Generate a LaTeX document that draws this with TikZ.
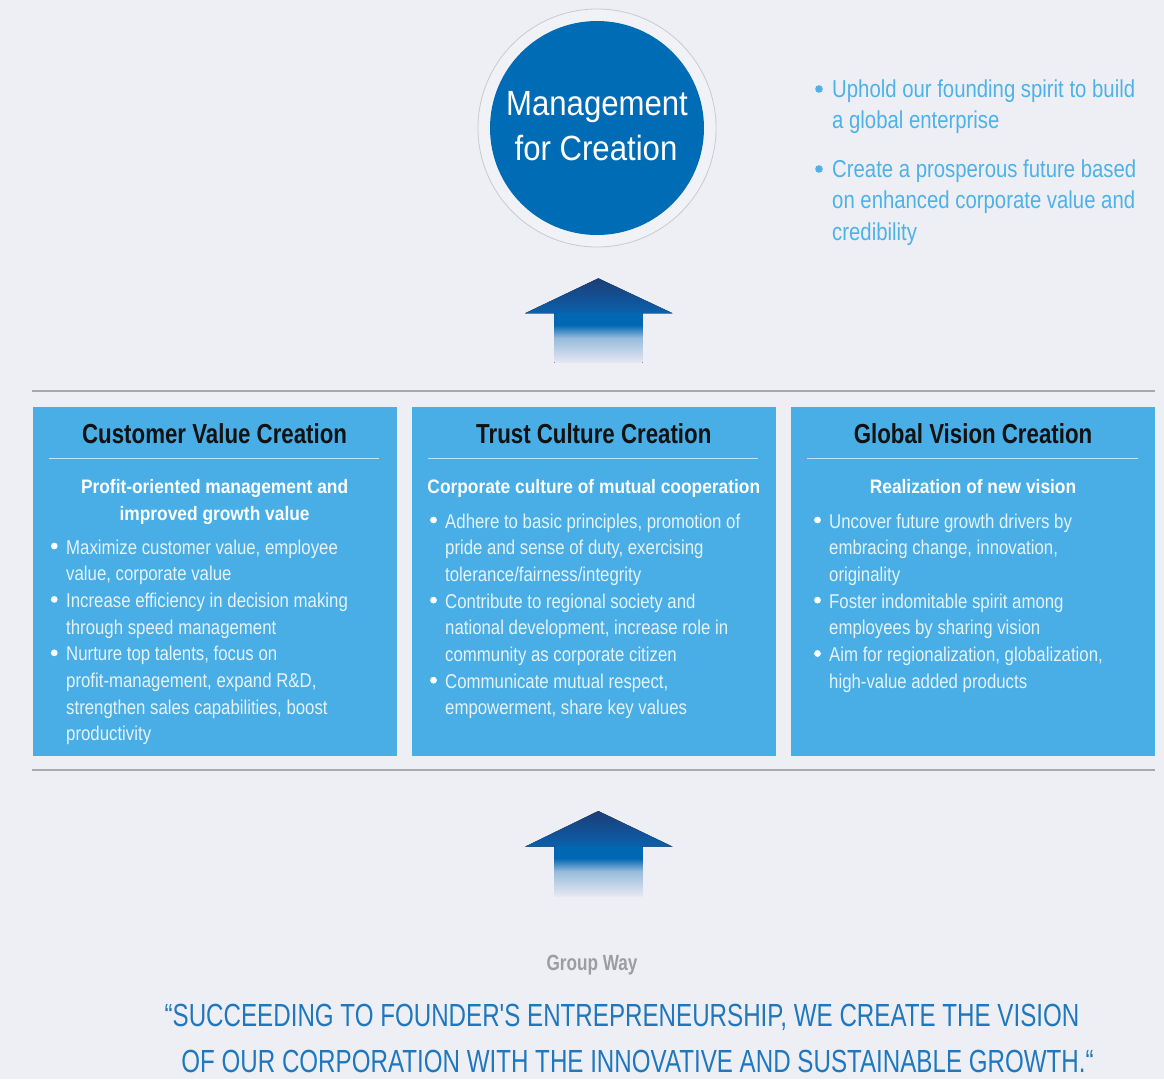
\documentclass[tikz,border=0pt]{standalone}
\usepackage{fontspec}
\setmainfont{Liberation Sans}
\newfontfamily\bodyf{Liberation Sans}[FakeStretch=0.84]
\newfontfamily\rightf{Liberation Sans}[FakeStretch=0.83]
\newfontfamily\titlef{Liberation Sans}[FakeStretch=0.81]
\newfontfamily\gwf{Liberation Sans}[FakeStretch=0.78]
\newfontfamily\subf{Liberation Sans}[FakeStretch=0.89]
\newfontfamily\circf{Liberation Sans}[FakeStretch=0.89]
\newfontfamily\quotef{Liberation Sans}[FakeStretch=0.755]
\definecolor{bg}{HTML}{EEEFF4}
\definecolor{boxblue}{HTML}{48AEE5}
\definecolor{circblue}{HTML}{006CB5}
\definecolor{ringfill}{HTML}{F1F2F6}
\definecolor{ringgray}{HTML}{C9CACE}
\definecolor{navy}{HTML}{1D3D78}
\definecolor{midblue}{HTML}{0A61AC}
\definecolor{shaftblue}{HTML}{0067B2}
\definecolor{fadeend}{HTML}{E6E8F2}
\definecolor{lightblue}{HTML}{4DB2E8}
\definecolor{quoteblue}{HTML}{1F78BF}
\definecolor{rulegray}{HTML}{A9A9AD}
\definecolor{bodytxt}{HTML}{E6F3FB}
\definecolor{seprule}{HTML}{C4E5F8}
\definecolor{graytxt}{HTML}{9C9DA1}
\definecolor{titletxt}{HTML}{111111}
\pgfdeclareverticalshading{shaftfade}{100bp}{color(0bp)=(fadeend); color(25bp)=(fadeend); color(50bp)=(shaftblue!35!fadeend); color(63bp)=(shaftblue); color(75bp)=(shaftblue); color(100bp)=(shaftblue)}
\tikzset{
  box/.style={fill=boxblue, draw=none},
  sep/.style={draw=seprule, line width=1pt},
  rule/.style={draw=rulegray, line width=1.2pt},
  bodyline/.style={anchor=base west, inner sep=0pt, text=bodytxt, font=\bodyf\fontsize{20}{24}\selectfont},
  rightline/.style={anchor=base west, inner sep=0pt, text=lightblue, font=\rightf\fontsize{24.5}{28}\selectfont},
  boxtitle/.style={anchor=base, inner sep=0pt, text=titletxt, font=\titlef\bfseries\fontsize{27.5}{32}\selectfont},
  boxsub/.style={anchor=base, inner sep=0pt, text=white, font=\subf\bfseries\fontsize{19.5}{24}\selectfont},
  circtext/.style={anchor=base, inner sep=0pt, text=white, font=\circf\fontsize{35}{40}\selectfont},
  quoteline/.style={anchor=base, inner sep=0pt, text=quoteblue, font=\quotef\fontsize{32}{36}\selectfont},
  whitedot/.style={fill=white},
  bluedot/.style={fill=lightblue},
  head/.style={top color=navy, bottom color=midblue, draw=none},
  shaft/.style={shading=shaftfade, draw=none},
}
\newcommand\bodyln[4]{\node[bodyline] (#1) at (#2,#3) {#4};}
\begin{document}
\begin{tikzpicture}[x=1pt,y=-1pt]
\fill[bg] (0,0) rectangle (1164,1079);
\useasboundingbox (0,0) rectangle (1164,1079);

% ---- top circle ----
\draw[draw=ringgray, fill=ringfill, line width=0.8pt] (597,128) circle (119);
\node[circle, fill=circblue, minimum size=214pt, inner sep=0pt] (mgmt) at (597,128) {};
\node[circtext] (mgmt1) at (597,115) {Management};
\node[circtext] (mgmt2) at (596,160) {for Creation};

% ---- right bullets ----
\fill[bluedot] (819,89) circle (3.8);
\fill[bluedot] (819,169) circle (3.8);
\node[rightline] (r1) at (832,97) {Uphold our founding spirit to build};
\node[rightline] (r2) at (832,128.5) {a global enterprise};
\node[rightline] (r3) at (832,177) {Create a prosperous future based};
\node[rightline] (r4) at (832,208.5) {on enhanced corporate value and};
\node[rightline] (r5) at (832,240) {credibility};

% ---- upper arrow ----
\fill[head] (525,313.3) -- (598.3,278.3) -- (672.7,313.3) -- cycle;
\fill[shaft] (554.3,313) rectangle (642.7,362.7);

% ---- rules ----
\draw[rule] (32,391) -- (1155,391);
\draw[rule] (32,770) -- (1155,770);

% ---- boxes ----
\fill[box] (32.5,407.3) rectangle (396.7,755.7);
\fill[box] (411.7,407.3) rectangle (776,755.7);
\fill[box] (791,407.3) rectangle (1155,755.7);

\draw[sep] (49,458) -- (379,458);
\draw[sep] (428,458) -- (758,458);
\draw[sep] (807,458) -- (1138,458);

\node[boxtitle] (t1) at (214.6,443) {Customer Value Creation};
\node[boxtitle] (t2) at (593.8,443) {Trust Culture Creation};
\node[boxtitle] (t3) at (973,443) {Global Vision Creation};

\node[boxsub] (s1a) at (214.6,493) {Profit-oriented management and};
\node[boxsub] (s1b) at (214.6,520) {improved growth value};
\node[boxsub] (s2) at (593.8,493) {Corporate culture of mutual cooperation};
\node[boxsub] (s3) at (973,493) {Realization of new vision};

% box 1
\foreach \y in {554,607.4,660.8} \fill[whitedot] (54.3,\y-8) circle (3.4);
\bodyln{a1}{66}{554}{Maximize customer value, employee}
\bodyln{a2}{66}{580.7}{value, corporate value}
\bodyln{a3}{66}{607.4}{Increase efficiency in decision making}
\bodyln{a4}{66}{634.1}{through speed management}
\bodyln{a5}{66}{660.8}{Nurture top talents, focus on}
\bodyln{a6}{66}{687.5}{profit-management, expand R\&D,}
\bodyln{a7}{66}{714.2}{strengthen sales capabilities, boost}
\bodyln{a8}{66}{740.9}{productivity}

% box 2
\foreach \y in {528,608.1,688.2} \fill[whitedot] (433.5,\y-8) circle (3.4);
\bodyln{b1}{445}{528}{Adhere to basic principles, promotion of}
\bodyln{b2}{445}{554.7}{pride and sense of duty, exercising}
\bodyln{b3}{445}{581.4}{tolerance/fairness/integrity}
\bodyln{b4}{445}{608.1}{Contribute to regional society and}
\bodyln{b5}{445}{634.8}{national development, increase role in}
\bodyln{b6}{445}{661.5}{community as corporate citizen}
\bodyln{b7}{445}{688.2}{Communicate mutual respect,}
\bodyln{b8}{445}{714.9}{empowerment, share key values}

% box 3
\foreach \y in {528,608.1,661.5} \fill[whitedot] (817.5,\y-8) circle (3.4);
\bodyln{c1}{829}{528}{Uncover future growth drivers by}
\bodyln{c2}{829}{554.7}{embracing change, innovation,}
\bodyln{c3}{829}{581.4}{originality}
\bodyln{c4}{829}{608.1}{Foster indomitable spirit among}
\bodyln{c5}{829}{634.8}{employees by sharing vision}
\bodyln{c6}{829}{661.5}{Aim for regionalization, globalization,}
\bodyln{c7}{829}{688.2}{high-value added products}

% ---- lower arrow ----
\fill[head] (525,846.7) -- (598.3,811) -- (672.7,846.7) -- cycle;
\fill[shaft] (554.3,846.4) rectangle (642.7,896);

% ---- bottom text ----
\node[anchor=base, inner sep=0pt, text=graytxt, font=\gwf\bfseries\fontsize{22}{26}\selectfont] (gw) at (592,970) {Group Way};
\node[quoteline] (q1) at (622,1026) {“SUCCEEDING TO FOUNDER'S ENTREPRENEURSHIP, WE CREATE THE VISION};
\node[quoteline] (q2) at (637.5,1072) {OF OUR CORPORATION WITH THE INNOVATIVE AND SUSTAINABLE GROWTH.“};
\end{tikzpicture}
\end{document}
